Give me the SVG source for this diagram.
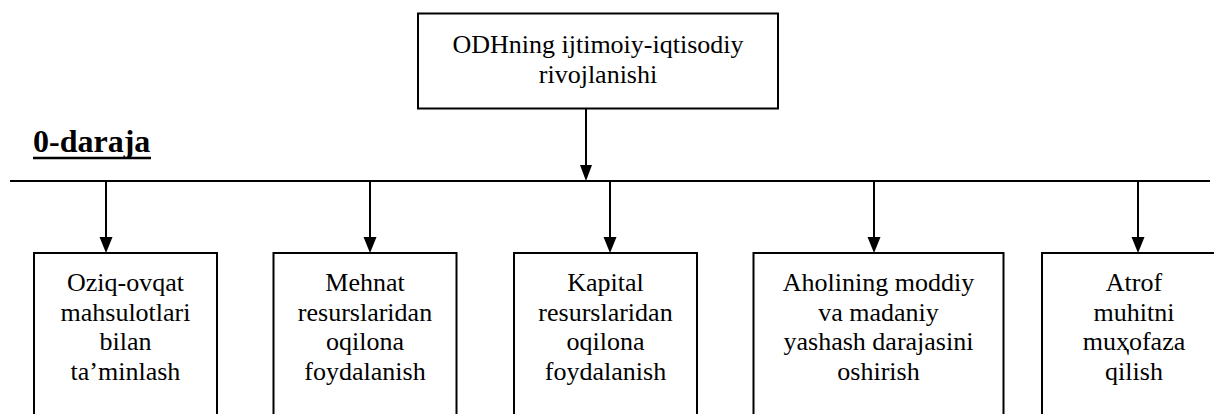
<svg xmlns="http://www.w3.org/2000/svg" width="1214" height="414" viewBox="0 0 1214 414">
<defs>
<style>
.box{fill:#fff;stroke:#000;stroke-width:2}
.t{fill:#000;text-anchor:middle}
.ln{stroke:#000;stroke-width:2;fill:none}
.hd{font-size:32px;font-weight:bold;fill:#000}
</style>
</defs>
<rect width="1214" height="414" fill="#fff"/>
<g id="label-level">
<text class="hd" font-family="Liberation Serif, serif" x="33" y="152">0-daraja</text>
<line x1="33" y1="158" x2="151" y2="158" stroke="#000" stroke-width="2.5"/>
</g>
<g id="connectors">
<line class="ln" x1="10" y1="181" x2="1210" y2="181"/>
<path d="M586,108.5 V165" class="ln"/>
<path d="M580,165 L592,165 L586,181 Z" fill="#000"/>
<path d="M106,181 V237" class="ln"/>
<path d="M99.5,237 L112.5,237 L106,253 Z" fill="#000"/>
<path d="M370,181 V237" class="ln"/>
<path d="M363.5,237 L376.5,237 L370,253 Z" fill="#000"/>
<path d="M610,181 V237" class="ln"/>
<path d="M603.5,237 L616.5,237 L610,253 Z" fill="#000"/>
<path d="M874,181 V237" class="ln"/>
<path d="M867.5,237 L880.5,237 L874,253 Z" fill="#000"/>
<path d="M1138,181 V237" class="ln"/>
<path d="M1131.5,237 L1144.5,237 L1138,253 Z" fill="#000"/>
</g>
<g id="root">
<rect class="box" x="418" y="13.5" width="360" height="95"/>
<g font-family="Liberation Serif, serif" font-size="26">
<text class="t" x="598" y="53">ODHning ijtimoiy-iqtisodiy</text>
<text class="t" x="598" y="83">rivojlanishi</text>
</g>
</g>
<g id="n1">
<rect class="box" x="34" y="253" width="183" height="180"/>
<g font-family="Liberation Serif, serif" font-size="26">
<text class="t" x="125.5" y="291">Oziq-ovqat</text>
<text class="t" x="125.5" y="320.5">mahsulotlari</text>
<text class="t" x="125.5" y="350">bilan</text>
<text class="t" x="125.5" y="379.5">ta’minlash</text>
</g>
</g>
<g id="n2">
<rect class="box" x="273.5" y="253" width="183" height="180"/>
<g font-family="Liberation Serif, serif" font-size="26">
<text class="t" x="365" y="291">Mehnat</text>
<text class="t" x="365" y="320.5">resurslaridan</text>
<text class="t" x="365" y="350">oqilona</text>
<text class="t" x="365" y="379.5">foydalanish</text>
</g>
</g>
<g id="n3">
<rect class="box" x="514" y="253" width="183" height="180"/>
<g font-family="Liberation Serif, serif" font-size="26">
<text class="t" x="605.5" y="291">Kapital</text>
<text class="t" x="605.5" y="320.5">resurslaridan</text>
<text class="t" x="605.5" y="350">oqilona</text>
<text class="t" x="605.5" y="379.5">foydalanish</text>
</g>
</g>
<g id="n4">
<rect class="box" x="753.5" y="253" width="250" height="180"/>
<g font-family="Liberation Serif, serif" font-size="26">
<text class="t" x="878.5" y="291">Aholining moddiy</text>
<text class="t" x="878.5" y="320.5">va madaniy</text>
<text class="t" x="878.5" y="350">yashash darajasini</text>
<text class="t" x="878.5" y="379.5">oshirish</text>
</g>
</g>
<g id="n5">
<rect class="box" x="1042" y="253" width="184" height="180"/>
<g font-family="Liberation Serif, serif" font-size="26">
<text class="t" x="1134" y="291">Atrof</text>
<text class="t" x="1134" y="320.5">muhitni</text>
<text class="t" x="1134" y="350">muҳofaza</text>
<text class="t" x="1134" y="379.5">qilish</text>
</g>
</g>
</svg>
